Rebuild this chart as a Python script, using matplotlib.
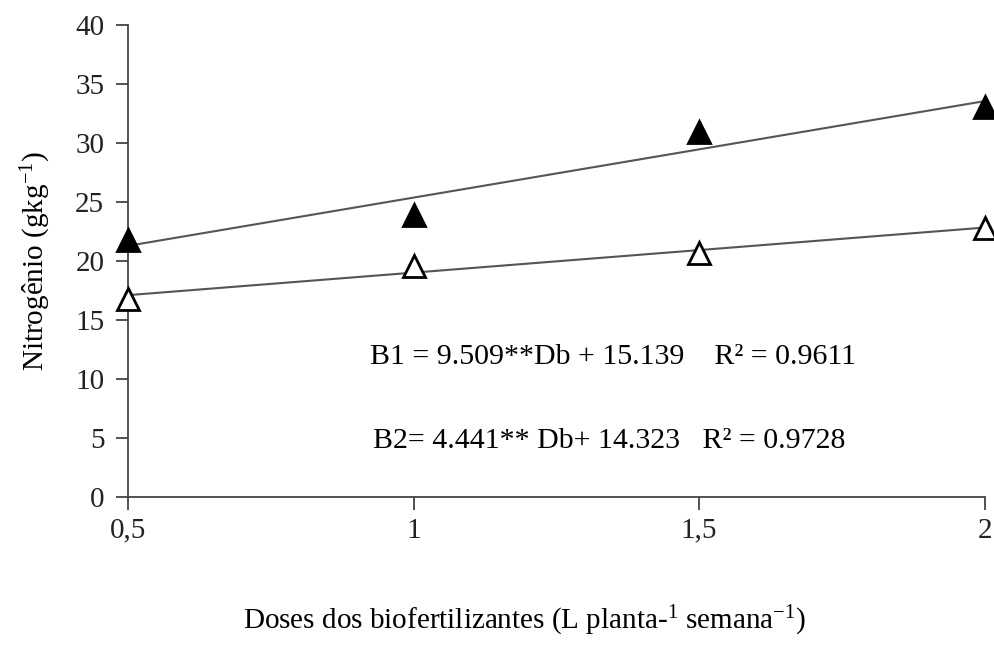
import numpy as np
import matplotlib
matplotlib.use('Agg')
import matplotlib.pyplot as plt

plt.rcParams['font.family'] = ['Liberation Serif', 'DejaVu Serif']
plt.rcParams['mathtext.fontset'] = 'custom'
plt.rcParams['mathtext.rm'] = 'Liberation Serif'
plt.rcParams['mathtext.it'] = 'Liberation Serif:italic'

doses = [0.5, 1.0, 1.5, 2.0]
b1 = [21.8, 23.9, 30.9, 33.1]
b2 = [16.8, 19.6, 20.7, 22.8]
xtick_labels = ['0,5', '1', '1,5', '2']
eq_b1 = 'B1 = 9.509**Db + 15.139    R² = 0.9611'
eq_b2 = 'B2= 4.441** Db+ 14.323   R² = 0.9728'

fig = plt.figure(figsize=(9.95, 6.45), dpi=100)
ax = fig.add_axes([0.1286, 0.2295, 0.861, 0.7315])

x = np.array(doses)
for y, face in [(b1, 'black'), (b2, 'white')]:
    k, c = np.polyfit(x, y, 1)
    ax.plot(x[[0, -1]], k * x[[0, -1]] + c, color='#555555', lw=1.5, zorder=2)
    ax.plot(x, y, linestyle='none', marker='^', ms=16, mfc=face, mec='black',
            mew=2, clip_on=False, zorder=3)

ax.set_xlim(0.5, 2)
ax.set_ylim(0, 40)
ax.set_xticks(doses)
ax.set_xticklabels(xtick_labels)
ax.set_yticks(range(0, 41, 5))
for s in ['top', 'right']:
    ax.spines[s].set_visible(False)
for s in ['left', 'bottom']:
    ax.spines[s].set_color('#444444')
    ax.spines[s].set_linewidth(1.3)
ax.tick_params(colors='#222222', labelsize=21, length=9, width=1.3, color='#444444')
ax.tick_params(axis='y', pad=8)
ax.tick_params(axis='x', pad=6)

ax.text(0.283, 0.297, eq_b1, transform=ax.transAxes, fontsize=21.5, ha='left', va='center')
ax.text(0.286, 0.118, eq_b2, transform=ax.transAxes, fontsize=21.5, ha='left', va='center')

ax.set_ylabel('Nitrogênio (gkg$^{-1}$)', fontsize=21, labelpad=16)
fig.text(0.527, 0.038, 'Doses dos biofertilizantes (L planta-$^{1}$ semana$^{-1}$)',
         fontsize=21, ha='center', va='center')

fig.savefig('out.png', dpi=100)
